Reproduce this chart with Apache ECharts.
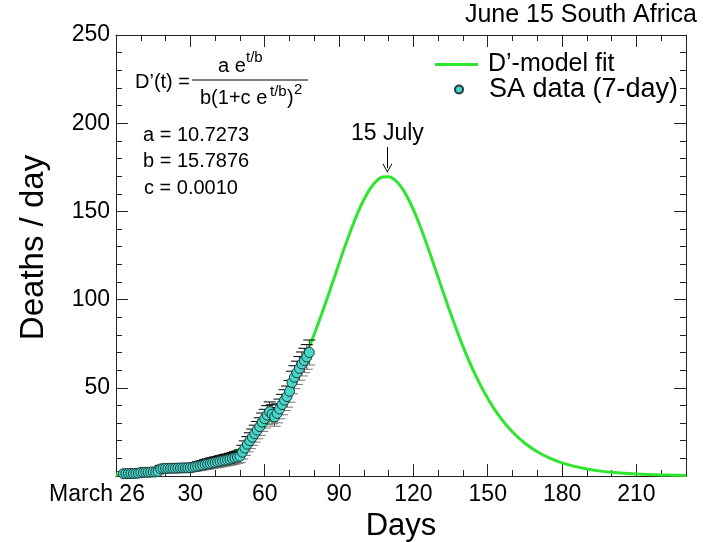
<!DOCTYPE html>
<html><head><meta charset="utf-8">
<script src="https://cdn.jsdelivr.net/npm/echarts@6.0.0/dist/echarts.min.js"></script>
<style>html,body{margin:0;padding:0;background:#fff}#c{width:708px;height:542px}</style>
</head><body><div id="c"></div>
<script>
// ---- data ----
const dataDays = [3,4,5,6,7,8,9,10,11,12,13,14,15,16,17,18,19,20,21,22,23,24,25,26,27,28,29,30,31,32,33,34,35,36,37,38,39,40,41,42,43,44,45,46,47,48,49,50,51,52,53,54,55,56,57,58,59,60,61,62,63,64,65,66,67,68,69,70,71,72,73,74,75,76,77,78];
const dataDeaths = [1.3,1.3,1.4,1.4,1.4,1.5,1.6,2.0,2.0,2.1,2.1,2.2,2.3,2.3,2.6,4.0,4.2,4.3,4.3,4.4,4.4,4.4,4.5,4.5,4.6,4.6,4.6,4.7,4.9,5.2,5.5,5.8,6.1,6.5,6.8,7.1,7.4,7.7,8.0,8.3,8.6,8.9,9.2,9.5,9.9,10.3,10.7,11.2,13.5,15.8,18.0,20.0,22.0,24.0,26.0,28.0,30.5,32.5,34.5,36.5,35.0,33.5,35.5,38.0,40.5,43.0,45.0,48.0,53.0,56.0,58.5,61.0,63.5,65.5,67.5,70.0];
const dataErrors = [1.2,1.2,1.2,1.2,1.2,1.2,1.2,1.4,1.4,1.4,1.4,1.4,1.4,1.4,1.4,2.0,2.0,2.0,2.0,2.0,2.0,2.0,2.0,2.0,2.0,2.0,2.0,2.0,2.3,2.4,2.5,2.6,2.7,2.8,2.9,3.0,3.0,3.1,3.1,3.2,3.2,3.3,3.3,3.4,3.4,3.5,3.5,3.6,3.9,4.1,4.3,4.5,4.6,4.8,4.9,5.0,5.2,5.3,5.4,5.5,5.4,5.3,5.4,5.6,5.8,5.9,6.0,6.2,6.4,6.5,6.6,6.7,6.8,6.9,7.0,7.1];
const fitDays = [0,5,10,15,20,25,30,35,40,45,50,55,60,65,70,75,80,85,87.5,90,92.5,95,97.5,100,102.5,105,107.5,110,112.5,115,117.5,120,122.5,125,127.5,130,132.5,135,140,145,150,155,160,165,170,175,180,185,190,195,200,205,210,215,220,225,230];
const fitDeaths = [0.68,0.93,1.28,1.75,2.40,3.28,4.48,6.12,8.35,11.35,15.39,20.76,27.84,37.03,48.70,63.14,80.34,99.82,110.1,120.4,130.6,140.2,149.0,156.6,162.75,167.1,169.45,169.7,167.86,164.0,158.28,151.0,142.4,133.0,122.9,112.6,102.3,92.2,73.5,57.3,43.96,33.27,24.93,18.55,13.72,10.11,7.43,5.44,3.98,2.91,2.13,1.55,1.13,0.83,0.60,0.44,0.32];
const xLabelFirst = 'March 26';
const peakLabel = '15 July';
const peakArrow = {day: 109.5, top: 186.5, tip: 174.5};
const fitParams = ['a = 10.7273', 'b = 15.7876', 'c = 0.0010'];
const xRange = [0, 230], xMajor = 30, xMinor = 10;
const yRange = [0, 250], yMajor = 50, yMinor = 10;

const FF = '"Liberation Sans", Arial, Helvetica, sans-serif';
const GREEN = '#2ee62e';
const AX = '#222';

function xAx(grid, pos, interval, tickLen, main) {
  return {
    gridIndex: grid, type: 'value', position: pos, min: xRange[0], max: xRange[1], interval: interval,
    axisLine: {show: main !== null, onZero: false, lineStyle: {color: AX, width: 1}},
    axisTick: {show: true, inside: true, length: tickLen, lineStyle: {color: AX, width: 1}},
    axisLabel: {show: false}, splitLine: {show: false}
  };
}
function yAx(grid, pos, interval, tickLen, main) {
  return {
    gridIndex: grid, type: 'value', position: pos, min: yRange[0], max: yRange[1], interval: interval,
    axisLine: {show: main !== null, onZero: false, lineStyle: {color: AX, width: 1}},
    axisTick: {show: true, inside: true, length: tickLen, lineStyle: {color: AX, width: 1}},
    axisLabel: {show: false}, splitLine: {show: false}
  };
}

const xBottom = xAx(0, 'bottom', xMajor, 12, true);
xBottom.axisLabel = {
  show: true, margin: 7, fontSize: 23, color: '#000', fontFamily: FF,
  showMinLabel: true, showMaxLabel: false,
  formatter: v => v === 0 ? '{m|' + xLabelFirst + '}' : (v % xMajor === 0 ? String(v) : ''),
  rich: {m: {fontSize: 23, fontFamily: FF, color: '#000', padding: [0, 38, 0, 0]}}
};
xBottom.name = 'Days'; xBottom.nameLocation = 'middle'; xBottom.nameGap = 28;
xBottom.nameTextStyle = {fontSize: 31, color: '#000', fontFamily: FF};

const yLeft = yAx(0, 'left', yMajor, 12, true);
yLeft.axisLabel = {show: true, margin: 6, fontSize: 23, color: '#000', fontFamily: FF,
  formatter: v => v === 0 ? '' : String(v)};
yLeft.name = 'Deaths / day'; yLeft.nameLocation = 'middle'; yLeft.nameGap = 66;
yLeft.nameTextStyle = {fontSize: 33, color: '#000', fontFamily: FF, padding: [0, 0, 0, 16]};

const gridBox = {left: 116, right: 22, top: 35, bottom: 66, containLabel: false, outerBoundsMode: 'none'};

const chart = echarts.init(document.getElementById('c'), null, {renderer: 'canvas'});
const txt = (x, y, text, size) => ({type: 'text', x: x, y: y, silent: true,
  style: {text: text, font: size + 'px ' + FF, fill: '#000', verticalAlign: 'middle', align: 'left'}});

chart.setOption({
  animation: false,
  backgroundColor: '#fff',
  title: {text: 'June 15 South Africa', right: 11, top: 3, padding: 0,
    textStyle: {fontSize: 25, fontWeight: 'normal', color: '#000', fontFamily: FF}},
  grid: [Object.assign({}, gridBox), Object.assign({}, gridBox)],
  xAxis: [xBottom, xAx(0, 'top', xMajor, 12, true), xAx(1, 'bottom', xMinor, 6, null), xAx(1, 'top', xMinor, 6, null)],
  yAxis: [yLeft, yAx(0, 'right', yMajor, 12, true), yAx(1, 'left', yMinor, 6, null), yAx(1, 'right', yMinor, 6, null)],
  legend: [
    {data: [{name: 'D\u2019-model fit', icon: 'rect'}], left: 435, top: 52, padding: 0, itemWidth: 43, itemHeight: 3,
      selectedMode: false, textStyle: {fontSize: 25, color: '#000', fontFamily: FF, padding: [0, 0, 0, 5]}},
    {data: [{name: 'SA data (7-day)', icon: 'circle'}], left: 454, top: 76, padding: 0, itemWidth: 8, itemHeight: 8,
      selectedMode: false, textStyle: {fontSize: 27, color: '#000', fontFamily: FF, padding: [0, 0, 0, 21]}}
  ],
  graphic: [
    txt(135, 82, 'D\u2019(t) =', 20),
    {type: 'line', silent: true, shape: {x1: 192, y1: 80, x2: 308, y2: 80}, style: {stroke: '#000', lineWidth: 1}},
    txt(218, 66, 'a e', 20),
    txt(246, 58, 't/b', 15),
    txt(200, 98, 'b(1+c e', 20),
    txt(270, 92, 't/b', 15),
    txt(287, 98, ')', 20),
    txt(294, 90, '2', 15),
    txt(143, 135, fitParams[0], 20),
    txt(143, 161, fitParams[1], 20),
    txt(144, 188, fitParams[2], 20)
  ],
  series: [
    {
      name: 'D\u2019-model fit', type: 'line', xAxisIndex: 0, yAxisIndex: 0, z: 2,
      data: fitDays.map((d, i) => [d, fitDeaths[i]]),
      showSymbol: false, smooth: 0.4,
      lineStyle: {color: GREEN, width: 3}, itemStyle: {color: GREEN},
      markLine: {
        silent: true, animation: false,
        lineStyle: {color: '#000', width: 1, type: 'solid'},
        label: {show: true, position: 'start', distance: 2, formatter: peakLabel, fontSize: 23, color: '#000', fontFamily: FF},
        data: [[
          {coord: [peakArrow.day, peakArrow.top], symbol: 'none'},
          {coord: [peakArrow.day, peakArrow.tip], symbol: 'path://M5,0 L10,9 L9,9 L5,1.8 L1,9 L0,9 Z', symbolSize: [10, 9]}
        ]]
      }
    },
    {
      type: 'custom', xAxisIndex: 0, yAxisIndex: 0, z: 3, silent: true,
      data: dataDays.map((d, i) => [d, dataDeaths[i], dataErrors[i]]),
      encode: {x: 0, y: 1},
      renderItem: function (params, api) {
        const x = api.value(0), y = api.value(1), e = api.value(2);
        const t = api.coord([x, y + e]), b = api.coord([x, y - e]);
        const hw = 6;
        return {type: 'group', children: [
          {type: 'line', shape: {x1: t[0], y1: t[1], x2: b[0], y2: b[1]}, style: {stroke: '#333', lineWidth: 1}},
          {type: 'line', shape: {x1: t[0] - hw, y1: t[1], x2: t[0] + hw, y2: t[1]}, style: {stroke: '#000', lineWidth: 1}},
          {type: 'line', shape: {x1: b[0] - hw, y1: b[1], x2: b[0] + hw, y2: b[1]}, style: {stroke: '#777', lineWidth: 1}}
        ]};
      }
    },
    {
      name: 'SA data (7-day)', type: 'scatter', xAxisIndex: 0, yAxisIndex: 0, z: 4,
      data: dataDays.map((d, i) => [d, dataDeaths[i]]),
      symbol: 'circle', symbolSize: 10,
      itemStyle: {color: '#48d6c9', borderColor: '#1c3b3b', borderWidth: 1, opacity: 1}
    }
  ]
});
</script>
</body></html>
